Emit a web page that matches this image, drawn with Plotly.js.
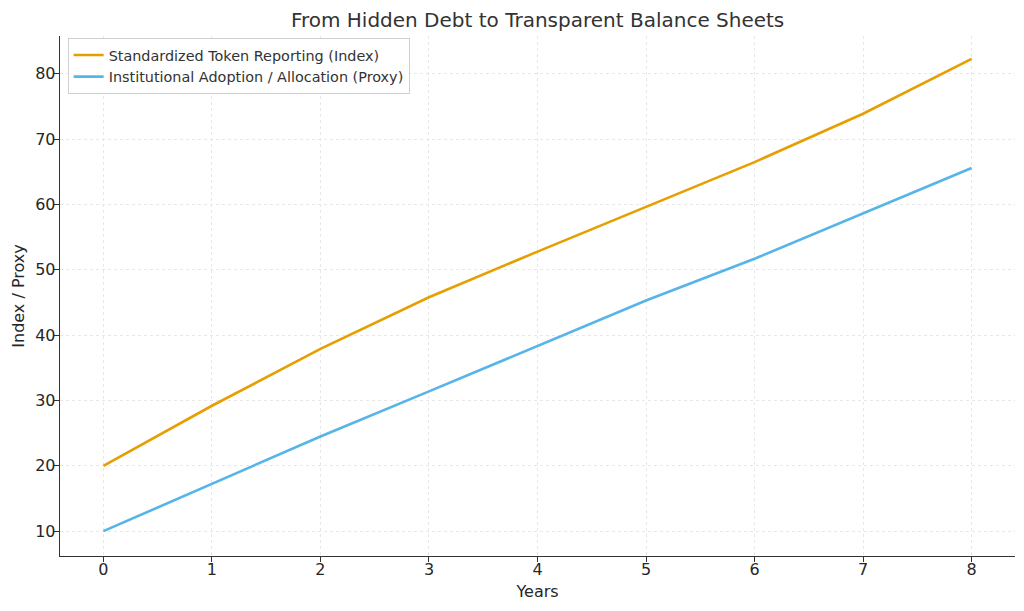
<!DOCTYPE html>
<html>
<head>
<meta charset="utf-8">
<script src="https://cdn.plot.ly/plotly-3.0.1.min.js"></script>
<style>
  html, body { margin: 0; padding: 0; background: #fff; }
  #chart { width: 1024px; height: 611px; }
</style>
</head>
<body>
<div id="chart"></div>
<script>
var years = [0, 1, 2, 3, 4, 5, 6, 7, 8]
var reporting = [20, 29.2, 37.9, 45.8, 52.8, 59.6, 66.5, 73.9, 82.3]
var adoption = [10, 17.3, 24.5, 31.4, 38.4, 45.3, 51.7, 58.6, 65.6]
var names = ['Standardized Token Reporting (Index)', 'Institutional Adoption / Allocation (Proxy)']
var yTicks = [10, 20, 30, 40, 50, 60, 70, 80]

var font = 'DejaVu Sans, sans-serif'

var trace1 = {
    x: years, y: reporting, name: names[0],
    type: 'scatter', mode: 'lines',
    line: {color: '#E69F00', width: 2.6}
}
var trace2 = {
    x: years, y: adoption, name: names[1],
    type: 'scatter', mode: 'lines',
    line: {color: '#56B4E9', width: 2.6}
}

var layout = {
    width: 1024, height: 611,
    margin: {l: 60, r: 9, t: 36, b: 55},
    paper_bgcolor: '#fff', plot_bgcolor: '#fff',
    font: {family: font, color: '#262626'},
    title: {
        text: 'From Hidden Debt to Transparent Balance Sheets',
        font: {family: font, size: 20, color: '#333'},
        x: 0.525, xanchor: 'center', y: 0.968, yanchor: 'middle'
    },
    xaxis: {
        range: [-0.4, 8.4],
        tickvals: years,
        ticks: 'outside', ticklen: 5, tickcolor: '#333', tickwidth: 1,
        ticklabelstandoff: -7,
        showline: true, linecolor: '#333', linewidth: 1.3,
        showgrid: true, gridcolor: '#e8e8e8', griddash: 'dot', gridwidth: 1,
        zeroline: false,
        tickfont: {size: 16, color: '#262626'},
        title: {text: 'Years', font: {size: 16, color: '#262626'}, standoff: 8}
    },
    yaxis: {
        range: [6.2, 85.8],
        tickvals: yTicks,
        ticks: 'outside', ticklen: 5, tickcolor: '#333', tickwidth: 1,
        ticklabelstandoff: -5,
        showline: true, linecolor: '#333', linewidth: 1.3,
        showgrid: true, gridcolor: '#e8e8e8', griddash: 'dot', gridwidth: 1,
        zeroline: false,
        tickfont: {size: 16, color: '#262626'},
        title: {text: 'Index / Proxy', font: {size: 16, color: '#262626'}, standoff: 6}
    },
    showlegend: true,
    legend: {
        x: 0.008, y: 0.996, xanchor: 'left', yanchor: 'top',
        bgcolor: 'rgba(255,255,255,0.85)', bordercolor: '#d0d0d0', borderwidth: 1,
        font: {family: font, size: 14.4, color: '#333'},
        tracegroupgap: 0
    }
}

Plotly.newPlot('chart', [trace1, trace2], layout, {staticPlot: true})
</script>
</body>
</html>
